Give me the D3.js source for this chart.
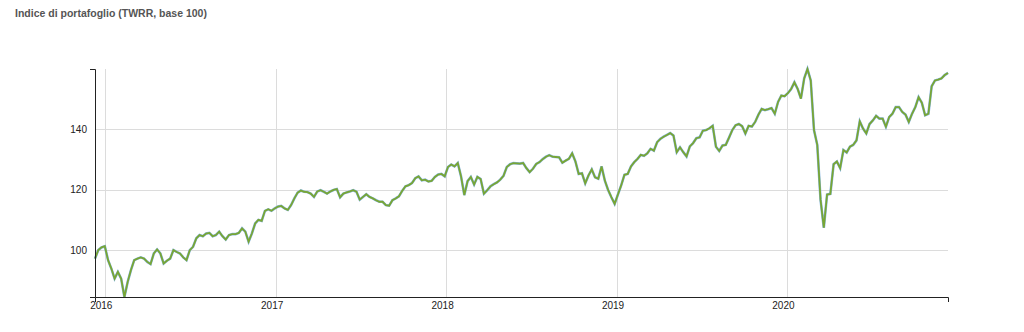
<!DOCTYPE html>
<html>
<head>
<meta charset="utf-8">
<script src="https://cdn.jsdelivr.net/npm/d3@7"></script>
<style>
  body { margin: 0; background: #fff; }
  svg text { font-family: "Liberation Sans", Arial, sans-serif; }
</style>
</head>
<body>
<svg id="chart" width="1024" height="332"></svg>
<script>
// Portfolio index (time-weighted rate of return, rebased to 100), weekly closes
const chartTitle = "Indice di portafoglio (TWRR, base 100)";
const firstWeek = "2015-12-11";
const stepDays = 7;
const portfolioIndex = [
  97.2, 100, 100.9, 101.3, 96.7, 93.9, 90.6, 92.8, 90.6, 84.5,
  89.5, 93.4, 96.7, 97.2, 97.6, 97.2, 96.1, 95.4, 98.9, 100.2,
  98.9, 95.6, 96.5, 97.2, 100, 99.4, 98.9, 97.6, 96.7, 100,
  101.1, 103.9, 105, 104.6, 105.5, 105.7, 104.6, 105, 106.1, 104.6,
  103.5, 105, 105.3, 105.3, 105.7, 107.2, 106.1, 102.8, 105.5, 108.8,
  110, 109.7, 113, 113.5, 113, 113.8, 114.4, 114.6, 113.8, 113.3,
  114.9, 117.1, 119, 119.7, 119.3,
  119.2, 118.7, 117.6, 119.4, 119.8, 119.3, 118.7, 119.4, 119.9, 120.2,
  117.5, 118.7, 119.1, 119.4, 119.8, 119.3, 116.7, 117.6, 118.5, 117.6,
  117.1, 116.5, 116, 116, 114.9, 114.7, 116.5, 117.1, 117.8, 119.6,
  121.1, 121.5, 122.2, 123.8, 124.4, 123.1, 123.3, 122.7, 122.9, 124.2,
  125, 125.2, 124.4, 127.5, 128.3, 127.7, 128.8, 124.4, 118.2, 122.8,
  124.2, 121.7, 124.2, 123.5, 118.7, 119.8, 121.1, 121.8, 122.4, 123.3,
  124.6, 127.5, 128.4, 128.8, 128.7, 128.6,
  128.8, 127.1, 125.8, 126.9, 128.5, 129.1, 130.1, 130.9, 131.4, 130.9,
  130.8, 130.7, 128.9, 129.6, 130.2, 132, 129.3, 125.2, 125.4, 122.1,
  124.7, 126.7, 124.1, 123.6, 127.7, 123, 119.9, 117.5, 115.3, 118.4,
  121.4, 124.9, 125.2, 127.7, 129.1, 130.2, 131.5, 131.2, 132, 133.5,
  132.9, 135.7, 136.8, 137.5, 138.1, 138.7, 137.9, 132.4, 134, 132.4,
  131, 134.3, 135.4, 137, 137.3, 139.5, 139.7, 140.3, 141.1, 134.2,
  132.8, 134.6, 134.8, 137.2,
  139.7, 141.3, 141.7, 141, 138.6, 141.1, 140.9, 142.4, 144.8, 146.7,
  146.3, 146.6, 147, 145.1, 149, 151.1, 150.9, 151.9, 153.3, 155.5,
  153.3, 150.1, 156.8, 159.9, 156.1, 139.7, 134.8, 116.7, 107.4, 118.4,
  118.6, 128.4, 129.3, 127.1, 133.1, 132.3, 134.2, 134.8, 136.3, 142.6,
  140.2, 138.6, 141.7, 142.9, 144.4, 143.5, 143.5, 140.8, 144, 145.1,
  147.3, 147.3, 145.7, 144.8, 142.4, 145.1, 147.3, 150.6, 148.7, 144.6,
  145.1, 154.2, 156.1, 156.4, 156.8, 157.9, 158.6
];
const yTicks = [100, 120, 140];
const xTickYears = [2016, 2017, 2018, 2019, 2020];

const W = 1024, H = 332;
const margin = { top: 69, right: 76, bottom: 35, left: 95 };

const start = d3.timeParse("%Y-%m-%d")(firstWeek);
const series = portfolioIndex.map((v, i) => ({ date: d3.timeDay.offset(start, i * stepDays), value: v }));

const x = d3.scaleTime()
  .domain(d3.extent(series, d => d.date))
  .range([margin.left, W - margin.right]);
const y = d3.scaleLinear()
  .domain(d3.extent(series, d => d.value))
  .range([H - margin.bottom, margin.top]);

const svg = d3.select("#chart");

svg.append("text")
  .attr("x", 15).attr("y", 16.5)
  .attr("font-size", "10.5px").attr("font-weight", "bold")
  .attr("fill", "#555")
  .text(chartTitle);

const yearDates = xTickYears.map(yr => new Date(yr, 0, 1));

// grid
const grid = svg.append("g").attr("stroke", "#dcdcdc").attr("stroke-width", 1);
grid.selectAll("line.h").data(yTicks).join("line").attr("class", "h")
  .attr("x1", margin.left).attr("x2", W - margin.right)
  .attr("y1", d => Math.round(y(d)) + 0.5).attr("y2", d => Math.round(y(d)) + 0.5);
grid.selectAll("line.v").data(yearDates).join("line").attr("class", "v")
  .attr("x1", d => Math.round(x(d)) + 0.5).attr("x2", d => Math.round(x(d)) + 0.5)
  .attr("y1", margin.top).attr("y2", H - margin.bottom);

// lines: light-blue underlay with the green index on top
const line = d3.line().x(d => x(d.date)).y(d => y(d.value));
svg.append("path").datum(series)
  .attr("fill", "none").attr("stroke", "#8ab6e2").attr("stroke-width", 2.6)
  .attr("stroke-linejoin", "miter").attr("d", line);
svg.append("path").datum(series)
  .attr("fill", "none").attr("stroke", "#78a634").attr("stroke-width", 1.8)
  .attr("stroke-linejoin", "miter").attr("d", line);

// axes
const gx = svg.append("g")
  .attr("transform", `translate(0,${H - margin.bottom})`)
  .call(d3.axisBottom(x).tickValues(yearDates).tickFormat(d3.timeFormat("%Y"))
    .tickSizeInner(0).tickSizeOuter(5).tickPadding(5));
gx.selectAll("text").attr("dx", -4);

const gy = svg.append("g")
  .attr("transform", `translate(${margin.left},0)`)
  .call(d3.axisLeft(y).tickValues(yTicks).tickSizeInner(0).tickSizeOuter(5).tickPadding(8));

[gx, gy].forEach(g => {
  g.attr("font-family", '"Liberation Sans", Arial, sans-serif').attr("font-size", 10).attr("color", "#222");
});
</script>
</body>
</html>
